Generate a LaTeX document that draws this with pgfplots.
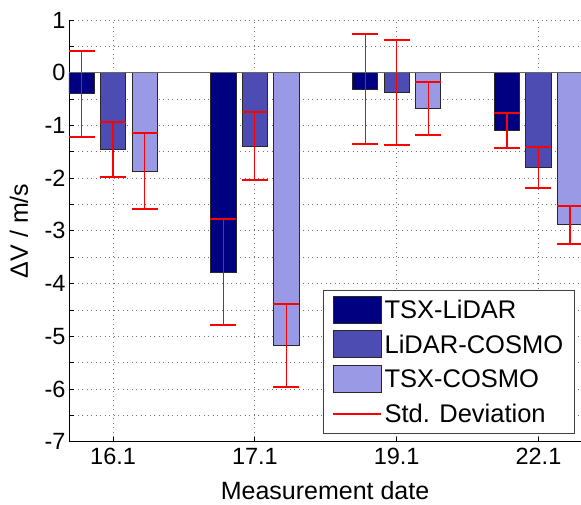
\documentclass[border=0pt]{standalone}
\usepackage{fontspec}
\setmainfont{Liberation Sans}
\usepackage{pgfplots}
\usepackage{pgfplotstable}
\pgfplotsset{compat=1.18}

\definecolor{barA}{RGB}{0,0,128}
\definecolor{barB}{RGB}{76,76,178}
\definecolor{barC}{RGB}{153,153,229}
\definecolor{edge}{RGB}{40,40,40}
\definecolor{sdred}{RGB}{255,0,0}

% mean velocity differences per measurement date;
% xa, xb, xc are the bar centres within each date group
\pgfplotstableread{
x  xa       xb  xc      tl     lc     tc
0  -0.2222  0   0.2222  -0.40  -1.46  -1.87
1   0.7778  1   1.2222  -3.78  -1.39  -5.18
2   1.7778  2   2.2222  -0.31  -0.37  -0.68
3   2.7778  3   3.2222  -1.10  -1.80  -2.88
}\datatable

% mean +/- one standard deviation for every bar (nan separates the bars)
\pgfplotstableread{
x        y
-0.2222   0.42
-0.2222  -1.22
-0.2222   nan
 0.7778  -2.78
 0.7778  -4.78
 0.7778   nan
 1.7778   0.73
 1.7778  -1.35
 1.7778   nan
 2.7778  -0.77
 2.7778  -1.43
 2.7778   nan
 0        -0.94
 0        -1.98
 0         nan
 1        -0.74
 1        -2.04
 1         nan
 2         0.63
 2        -1.37
 2         nan
 3        -1.41
 3        -2.19
 3         nan
 0.2222  -1.15
 0.2222  -2.59
 0.2222   nan
 1.2222  -4.39
 1.2222  -5.97
 1.2222   nan
 2.2222  -0.18
 2.2222  -1.18
 2.2222   nan
 3.2222  -2.52
 3.2222  -3.24
}\sdtable

\pgfplotsset{
  bars/.style={ybar, fill=#1, draw=edge, line width=0.9pt, bar width=25.2pt, bar shift=0pt,
    /pgfplots/legend image code/.code={\draw[fill=#1, draw=edge, line width=0.9pt] (0pt,-13.5pt) rectangle (48pt,13.5pt);}},
}

\begin{document}
\begin{tikzpicture}
\begin{axis}[
  at={(0,0)}, anchor=south west,
  scale only axis, width=512pt, height=421.7pt,
  xmin=-0.311, xmax=3.30, ymin=-7, ymax=1,
  axis x line*=bottom, axis y line*=left,
  axis line style={-, black, line width=0.8pt},
  xtick={0,1,2,3}, xticklabels={16.1,17.1,19.1,22.1},
  ytick={-7,-6,...,1}, yticklabels={-7,-6,-5,-4,-3,-2,-1,0,1},
  minor ytick={-6.5,-5.5,...,0.5},
  tick align=inside,
  major tick length=5pt, minor tick length=5pt,
  tick style={black, line width=0.8pt},
  grid=both,
  grid style={black!55, line width=0.8pt, dash pattern=on 0.8pt off 3.7pt},
  minor grid style={black!55, line width=0.8pt, dash pattern=on 0.8pt off 3.7pt},
  tick label style={font=\fontsize{23.5}{28}\selectfont},
  xticklabel style={yshift=-2.8pt},
  label style={font=\fontsize{25}{30}\selectfont},
  xlabel={Measurement date},
  xlabel style={at={(axis description cs:0.5,-0.1373)}, anchor=base},
  ylabel={ΔV / m/s},
  ylabel style={at={(axis description cs:-0.0801,0.5)}, anchor=base},
  legend style={at={(axis description cs:0.98828,0.01992)}, anchor=south east,
    draw=black!75, line width=0.8pt, fill=white,
    font=\fontsize{25.5}{30}\selectfont,
    inner xsep=9pt, inner ysep=2pt, row sep=0pt, column sep=0pt,
    nodes={inner xsep=2.5pt, inner ysep=0pt, text height=26.45pt, text depth=8.25pt}},
  legend cell align=left,
  unbounded coords=jump,
]
\addplot[bars=barA] table[x=xa, y=tl] {\datatable};
\addlegendentry{TSX-LiDAR}
\addplot[bars=barB] table[x=xb, y=lc] {\datatable};
\addlegendentry{LiDAR-COSMO}
\addplot[bars=barC] table[x=xc, y=tc] {\datatable};
\addlegendentry{TSX-COSMO}
% standard deviation whiskers with caps
\addplot[draw=sdred, line width=1.2pt, solid, mark=-, mark size=13pt,
  mark options={draw=sdred, line width=2pt, solid},
  legend image code/.code={\draw[draw=sdred, solid, line width=2pt] (0pt,0pt) -- (48pt,0pt);}]
  table[x=x, y=y] {\sdtable};
\addlegendentry{Std. Deviation}
% bar baseline
\draw[black!60, line width=1pt] (axis cs:-0.311,0) -- (axis cs:3.30,0);
\end{axis}
\pgfresetboundingbox
\path (-69pt,-62.3pt) rectangle (512pt,441.7pt);
\end{tikzpicture}
\end{document}
